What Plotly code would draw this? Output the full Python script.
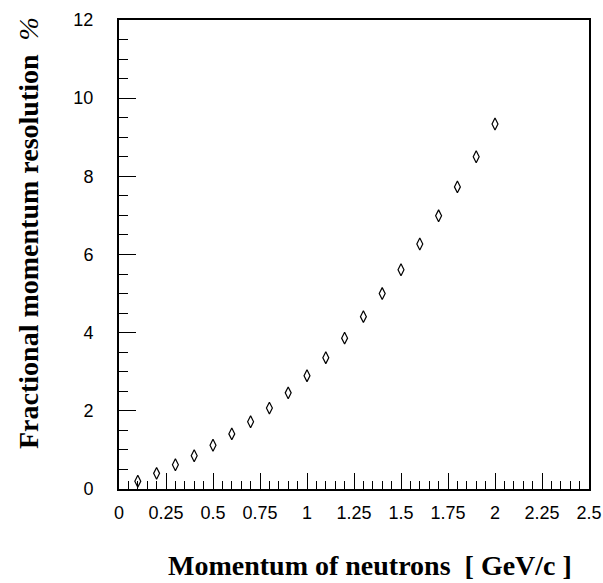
import plotly.graph_objects as go

# Data
momentum = [0.1, 0.2, 0.3, 0.4, 0.5, 0.6, 0.7, 0.8, 0.9, 1.0,
            1.1, 1.2, 1.3, 1.4, 1.5, 1.6, 1.7, 1.8, 1.9, 2.0]
resolution = [0.20, 0.40, 0.62, 0.85, 1.12, 1.41, 1.72, 2.07, 2.46, 2.90,
              3.36, 3.86, 4.41, 5.00, 5.61, 6.27, 6.99, 7.73, 8.50, 9.34]

x_tickvals = [0, 0.25, 0.5, 0.75, 1, 1.25, 1.5, 1.75, 2, 2.25, 2.5]
x_ticktext = ["0", "0.25", "0.5", "0.75", "1", "1.25", "1.5", "1.75", "2", "2.25", "2.5"]
y_tickvals = [0, 2, 4, 6, 8, 10, 12]
y_ticktext = ["0", "2", "4", "6", "8", "10", "12"]

x_title = "<b>Momentum of neutrons\u00a0\u00a0[ GeV/c ]</b>"
y_title = "<b>Fractional momentum resolution</b>\u00a0\u00a0<i>%</i>"

fig = go.Figure()
fig.add_trace(go.Scatter(
    x=momentum, y=resolution, mode="markers",
    marker=dict(symbol="diamond-tall-open", size=8.5, color="black",
                line=dict(color="black", width=1.2)),
    showlegend=False,
))

tick_font = dict(family="Liberation Sans, Arial, sans-serif", size=18, color="black")

fig.update_xaxes(
    range=[0, 2.5], tickvals=x_tickvals, ticktext=x_ticktext,
    ticks="inside", ticklen=16, tickwidth=1, tickcolor="black",
    minor=dict(dtick=0.05, tick0=0, ticks="inside", ticklen=8, tickwidth=1, tickcolor="black"),
    showline=True, linewidth=2, linecolor="black", mirror=True, automargin=False,
    showgrid=False, zeroline=False, tickfont=tick_font, ticklabelstandoff=6,
)
fig.update_yaxes(
    range=[0, 12], tickvals=y_tickvals, ticktext=y_ticktext,
    ticks="inside", ticklen=17, tickwidth=1, tickcolor="black",
    minor=dict(dtick=0.5, tick0=0, ticks="inside", ticklen=9, tickwidth=1, tickcolor="black"),
    showline=True, linewidth=2, linecolor="black", mirror=True, automargin=False,
    showgrid=False, zeroline=False, tickfont=tick_font, ticklabelstandoff=20,
)

title_font = dict(family="Liberation Serif, Times New Roman, serif", size=28, color="black")
fig.add_annotation(text=x_title, xref="paper", yref="paper",
                   x=(370 - 119) / 470, y=(489 - 565) / 469,
                   xanchor="center", yanchor="middle", showarrow=False, font=title_font)
fig.add_annotation(text=y_title, xref="paper", yref="paper",
                   x=(28 - 119) / 470, y=(489 - 233) / 469, textangle=-90,
                   xanchor="center", yanchor="middle", showarrow=False, font=title_font)

fig.update_layout(
    width=603, height=583,
    margin=dict(l=119, r=14, t=20, b=94),
    paper_bgcolor="white", plot_bgcolor="white",
)

fig.write_html("out.html", config={"displayModeBar": False},
               post_script="document.body.style.margin='0';document.body.style.overflow='hidden';")
